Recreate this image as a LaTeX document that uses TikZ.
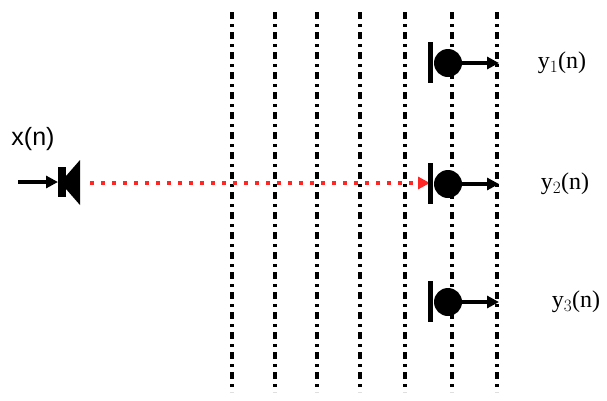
\documentclass[tikz,border=0pt]{standalone}
\usepackage{fontspec}
\setmainfont{Liberation Serif}
\setsansfont{Liberation Sans}
\usetikzlibrary{arrows.meta}
\begin{document}
\begin{tikzpicture}[x=1pt,y=-1pt]
\tikzset{
 wall/.style={line width=4pt,dash pattern=on 7pt off 5pt on 3pt off 5pt},
 sig/.style={line width=4pt,-{Triangle[length=12pt,width=12pt]}},
 lbl/.style={font=\fontsize{24}{24}\selectfont}}
\useasboundingbox (0,0) rectangle (607,400);
\foreach \x in {232,275,317,360,405,452,497}{
  \coordinate (t\x) at (\x,12); \coordinate (b\x) at (\x,392);
  \draw[wall] (t\x) -- (b\x);}
% speaker
\fill (58,167) rectangle (66,197);
\fill (66,176) -- (80,160) -- (80,205) -- (66,189) -- cycle;
\coordinate (sin) at (18,182); \coordinate (sp) at (58,182);
\draw[sig] (sin) -- (sp);
\node[font=\sffamily\fontsize{25}{25}\selectfont] (x) at (33,139) {x(n)};
% red path
\coordinate (rs) at (90,183); \coordinate (re) at (430,183);
\draw[red!85!white,line width=4pt,dash pattern=on 4pt off 7pt,-{Triangle[length=12pt,width=12pt,sep=0pt]}] (rs) -- (re);
% mics
\foreach \i/\y/\lx in {1/63/562,2/184/565,3/302/576}{
  \fill (428,\y-21) rectangle (433,\y+20);
  \fill (448,\y) circle (14);
  \coordinate (m\i) at (460,\y); \coordinate (o\i) at (499,\y);
  \draw[sig] (m\i) -- (o\i);
  \node[lbl] (y\i) at (\lx,\y) {y$_{\i}$(n)};
}
\end{tikzpicture}
\end{document}
